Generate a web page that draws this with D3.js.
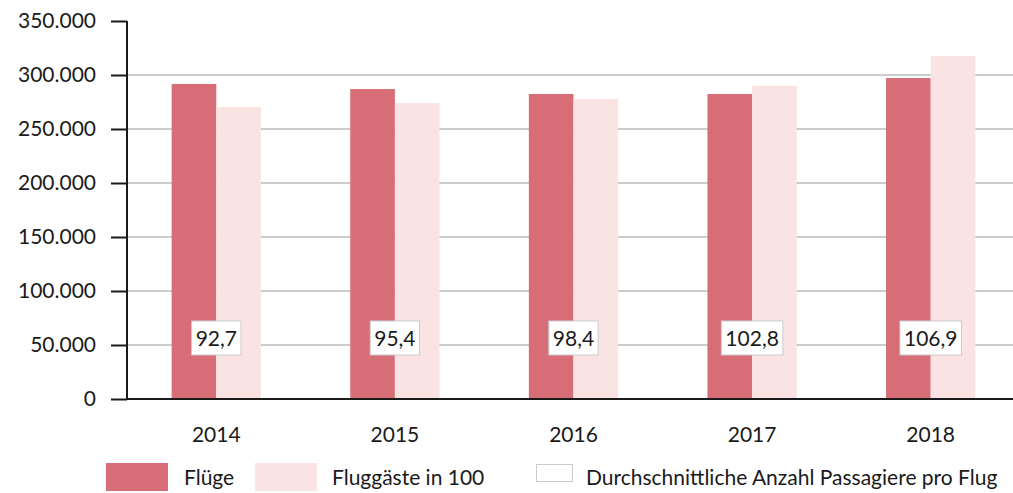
<!doctype html>
<html>
<head>
<meta charset="utf-8">
<script src="https://cdnjs.cloudflare.com/ajax/libs/d3/7.8.5/d3.min.js"></script>
<style>
  body { margin: 0; background: #fff; }
  svg text { font-family: "Lato", "DejaVu Sans", sans-serif; fill: #1a1a1a; }
</style>
</head>
<body>
<svg id="chart" width="1013" height="493"></svg>
<script>
  // data
  const years = ["2014", "2015", "2016", "2017", "2018"];
  const fluege = [291700, 287000, 282400, 282400, 297200];
  const fluggaeste = [270400, 274000, 277800, 290100, 317600];
  const avgLabels = ["92,7", "95,4", "98,4", "102,8", "106,9"];
  const yTicks = [0, 50000, 100000, 150000, 200000, 250000, 300000, 350000];
  const seriesNames = ["Flüge", "Fluggäste in 100", "Durchschnittliche Anzahl Passagiere pro Flug"];

  const dark = "#d76e77", light = "#f9e4e3";
  const fs = "21px";
  const svg = d3.select("#chart");

  const x = d3.scaleBand().domain(years).range([127, 1020]).paddingInner(0.5).paddingOuter(0.25);
  const y = d3.scaleLinear().domain([0, 350000]).range([399, 21]);
  const fmt = d => d === 0 ? "0" : d3.format(",")(d).replace(/,/g, ".");

  // grid
  svg.append("g").selectAll("line")
    .data(yTicks.filter(d => d > 0 && d < 350000))
    .enter().append("line")
    .attr("x1", 127).attr("x2", 1013)
    .attr("y1", d => y(d)).attr("y2", d => y(d))
    .attr("stroke", "#cccccc").attr("stroke-width", 2);

  // bars
  const half = x.bandwidth() / 2;
  svg.append("g").selectAll("rect")
    .data(years).enter().append("rect")
    .attr("x", d => x(d)).attr("width", half)
    .attr("y", (d, i) => y(fluege[i])).attr("height", (d, i) => y(0) - y(fluege[i]))
    .attr("fill", dark);
  svg.append("g").selectAll("rect")
    .data(years).enter().append("rect")
    .attr("x", d => x(d) + half).attr("width", half)
    .attr("y", (d, i) => y(fluggaeste[i])).attr("height", (d, i) => y(0) - y(fluggaeste[i]))
    .attr("fill", light);

  // y axis
  const yAxis = svg.append("g").attr("transform", "translate(127,0)")
    .call(d3.axisLeft(y).tickValues(yTicks).tickFormat(fmt).tickSize(16).tickPadding(15));
  yAxis.select(".domain").attr("stroke", "#1a1a1a").attr("stroke-width", 2).attr("d", "M0," + y(350000) + "V" + y(0));
  yAxis.selectAll(".tick line").attr("stroke", "#1a1a1a").attr("stroke-width", 2);
  yAxis.selectAll(".tick text").style("font-size", fs).attr("fill", "#1a1a1a");

  // zero line
  svg.append("line").attr("x1", 127).attr("x2", 1013)
    .attr("y1", y(0)).attr("y2", y(0))
    .attr("stroke", "#1a1a1a").attr("stroke-width", 2);

  // x labels
  svg.append("g").selectAll("text")
    .data(years).enter().append("text")
    .attr("x", d => x(d) + half).attr("y", 442)
    .attr("text-anchor", "middle").style("font-size", fs)
    .text(d => d);

  // average labels
  const lab = svg.append("g").selectAll("g")
    .data(years).enter().append("g")
    .attr("transform", d => "translate(" + (x(d) + half) + "," + y(56500) + ")");
  lab.append("text")
    .attr("text-anchor", "middle").attr("dy", "0.36em")
    .style("font-size", fs)
    .text((d, i) => avgLabels[i]);
  lab.each(function () {
    const g = d3.select(this);
    const bb = g.select("text").node().getBBox();
    g.insert("rect", "text")
      .attr("x", bb.x - 4).attr("y", -17)
      .attr("width", bb.width + 8).attr("height", 34)
      .attr("fill", "#fff").attr("stroke", "#cccccc").attr("stroke-width", 1);
  });

  // legend
  const leg = svg.append("g");
  leg.append("rect").attr("x", 106).attr("y", 463).attr("width", 62).attr("height", 28).attr("fill", dark);
  leg.append("text").attr("x", 184).attr("y", 485).style("font-size", fs).text(seriesNames[0]);
  leg.append("rect").attr("x", 255).attr("y", 463).attr("width", 62).attr("height", 28).attr("fill", light);
  leg.append("text").attr("x", 332).attr("y", 485).style("font-size", fs).text(seriesNames[1]);
  leg.append("rect").attr("x", 536.5).attr("y", 464.5).attr("width", 36).attr("height", 17)
    .attr("fill", "#fff").attr("stroke", "#cccccc").attr("stroke-width", 1);
  leg.append("text").attr("x", 586).attr("y", 485).style("font-size", fs).text(seriesNames[2]);
</script>
</body>
</html>
